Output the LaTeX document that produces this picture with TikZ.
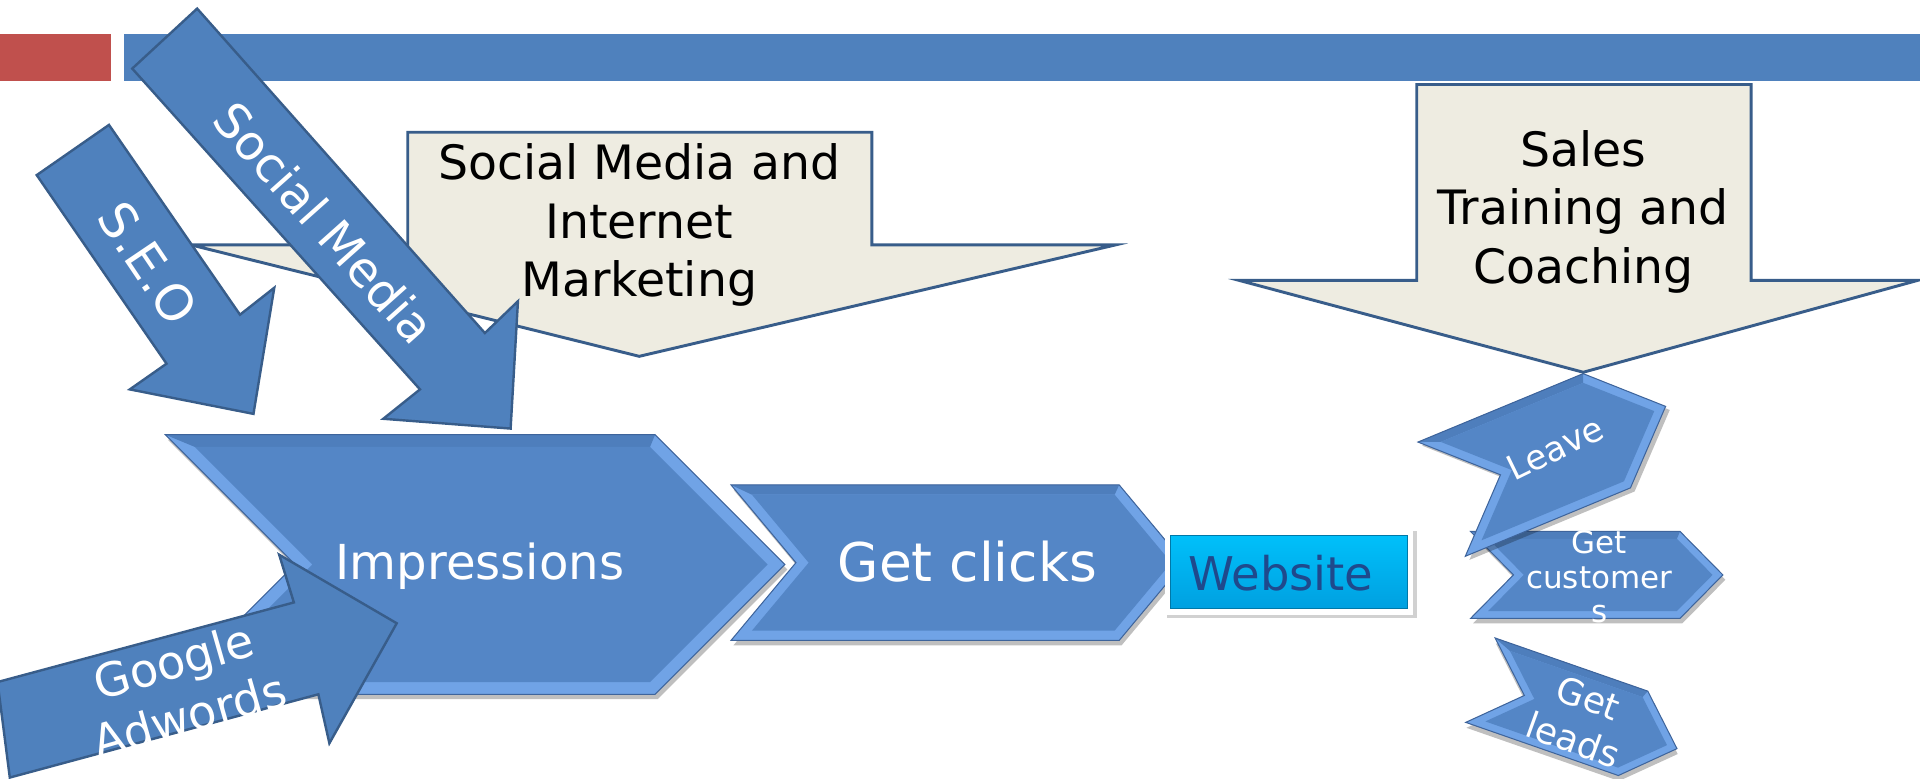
\documentclass[tikz,border=0pt]{standalone}
\usepackage{fontspec}
\setmainfont{DejaVu Sans}
\definecolor{hdrred}{RGB}{192,80,77}
\definecolor{hdrblue}{RGB}{79,129,189}
\definecolor{arrowblue}{RGB}{79,129,189}
\definecolor{arrowedge}{RGB}{56,93,138}
\definecolor{calloutfill}{RGB}{238,236,225}
\definecolor{chevmain}{RGB}{84,134,198}
\definecolor{chevtop}{RGB}{78,126,188}
\definecolor{chevlight}{RGB}{112,163,230}
\definecolor{chevedge}{RGB}{62,100,155}
\definecolor{webtop}{RGB}{0,192,250}
\definecolor{webbot}{RGB}{0,160,224}
\definecolor{webtext}{RGB}{31,73,140}
\tikzset{
  bigarrow/.style={fill=arrowblue, draw=arrowedge, line width=1.4pt, line join=miter},
  callout/.style={fill=calloutfill, draw=arrowedge, line width=1.7pt, line join=miter},
  lbl/.style={text=white, inner sep=0pt, align=center},
  darklbl/.style={text=black, inner sep=0pt, align=center},
}
% chevron in local coordinates: #1 width, #2 height, #3 point depth, #4 bevel
\newcommand{\mychev}[4]{%
  \pgfmathsetmacro\chh{#2/2}%
  \pgfmathsetmacro\cs{#4*veclen(#3,\chh)/\chh}%
  \pgfmathsetmacro\cdx{#3*#4/\chh}%
  \fill[black, opacity=0.25] (2,4) -- (#1+2,4) -- (#1+#3+2,\chh+4) -- (#1+2,#2+4) -- (2,#2+4) -- (#3+2,\chh+4) -- cycle;
  \fill[chevlight] (0,0) -- (#1,0) -- (#1+#3,\chh) -- (#1,#2) -- (0,#2) -- (#3,\chh) -- cycle;
  \fill[chevtop] (0,0) -- (#1,0) -- (#1+\cdx-\cs,#4) -- (\cdx+\cs,#4) -- cycle;
  \fill[chevmain] (\cdx+\cs,#4) -- (#1+\cdx-\cs,#4) -- (#1+#3-\cs,\chh) -- (#1+\cdx-\cs,#2-#4) -- (\cdx+\cs,#2-#4) -- (#3+\cs,\chh) -- cycle;
  \draw[chevedge, line width=0.6pt, line join=miter] (0,0) -- (#1,0) -- (#1+#3,\chh) -- (#1,#2) -- (0,#2) -- (#3,\chh) -- cycle;
}
\begin{document}
\begin{tikzpicture}[x=0.25mm, y=-0.25mm]
\useasboundingbox (0,0) rectangle (1568,636);
\clip (0,0) rectangle (1568,636);
% header bars
\fill[hdrred] (0,28) rectangle (91,66);
\fill[hdrblue] (101,28) rectangle (1568,66);
% callout 1
\draw[callout] (333,108) -- (712,108) -- (712,200) -- (911,200) -- (522,291) -- (156,200) -- (333,200) -- cycle;
\node[darklbl, font=\fontsize{27.5}{34}\selectfont] (smim) at (522,184) {Social Media and\\Internet\\Marketing};
% Impressions chevron
\begin{scope}[shift={(135,355)}]
  \mychev{400}{212}{106}{10}
\end{scope}
\node[lbl, anchor=base, font=\fontsize{28}{33}\selectfont] (impressions) at (392,473) {Impressions};
% Get clicks chevron
\begin{scope}[shift={(597,396)}]
  \mychev{317}{127}{53}{8}
\end{scope}
\node[lbl, anchor=base, font=\fontsize{31}{36}\selectfont] (getclicks) at (790,475) {Get clicks};
% Website
\fill[black!18] (953,434) rectangle (1157,505);
\fill[white] (951,431) rectangle (1154,502);
\shade[top color=webtop, bottom color=webbot] (956,437) rectangle (1149,497);
\draw[webbot!75!black, line width=0.5pt] (956,437) rectangle (1149,497);
\node[anchor=base, text=webtext, inner sep=0pt, font=\fontsize{27}{32}\selectfont] (website) at (1046,482) {Website};
% SEO arrow
\draw[bigarrow] (30,143) -- (89,102) -- (196,257) -- (224,235) -- (207,338) -- (106,318) -- (136,297) -- cycle;
\node[lbl, font=\fontsize{29}{34}\selectfont, rotate=-56] (seo) at (121,215) {S.E.O};
% Social Media arrow
\draw[bigarrow] (108,56) -- (161,7) -- (396,272) -- (423,246) -- (417,350) -- (313,342) -- (343,318) -- cycle;
\node[lbl, font=\fontsize{28}{33}\selectfont, rotate=-48.3] (socialmedia) at (265,182) {Social Media};
% Google Adwords arrow
\draw[bigarrow] (-2,557) -- (240,492) -- (228,453) -- (324,509) -- (269,607) -- (260,567) -- (8,635) -- cycle;
\node[lbl, font=\fontsize{27}{33}\selectfont, rotate=16] (adwords) at (148,562) {Google\\Adwords};
% Get leads
\begin{scope}[shift={(1221,521)}, rotate=-19.2]
  \mychev{132}{73}{38}{6}
\end{scope}
\node[lbl, font=\fontsize{21}{26}\selectfont, rotate=-20] (getleads) at (1291,587) {Get\\leads};
% Get customers
\begin{scope}[shift={(1201,434)}]
  \mychev{171}{71}{35}{6}
\end{scope}
\node[lbl, font=\fontsize{18}{20.3}\selectfont] (getcustomers) at (1306,471) {Get\\customer\\s};
% Leave
\begin{scope}[shift={(1158,361)}, rotate=22.5]
  \mychev{146}{101}{52}{7}
\end{scope}
\node[lbl, font=\fontsize{20}{24}\selectfont, rotate=26] (leave) at (1270,366) {Leave};
% callout 2
\draw[callout] (1157,69) -- (1430,69) -- (1430,229) -- (1566,229) -- (1293,304) -- (1012,229) -- (1157,229) -- cycle;
\node[darklbl, font=\fontsize{27.5}{34}\selectfont] (sales) at (1293,173) {Sales\\Training and\\Coaching};
\end{tikzpicture}
\end{document}
